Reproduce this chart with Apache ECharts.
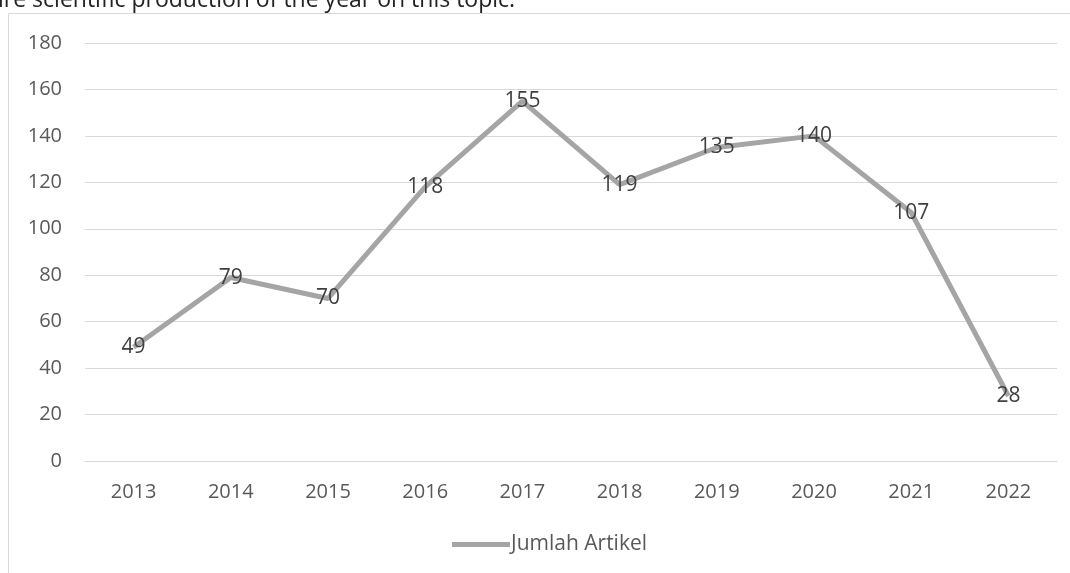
<!DOCTYPE html>
<html><head><meta charset="utf-8">
<script src="https://cdn.jsdelivr.net/npm/echarts@6/dist/echarts.min.js"></script>
<style>html,body{margin:0;padding:0;background:#fff}#c{width:1070px;height:573px}</style>
</head><body><div id="c"></div>
<script>
const categories = ['2013','2014','2015','2016','2017','2018','2019','2020','2021','2022'];
const jumlahArtikel = [49,79,70,118,155,119,135,140,107,28];
const seriesName = 'Jumlah Artikel';
const captionText = 'ire scientific production of the year on this topic.';
const FONT = '"Open Sans", "Noto Sans", sans-serif';
const chart = echarts.init(document.getElementById('c'));
chart.setOption({
  animation:false,
  backgroundColor:'#fff',
  graphic:[
    {type:'text', left:-2, top:-11, style:{text:captionText, font:'23px "Open Sans", sans-serif', fill:'#222'}},
    {type:'line', shape:{x1:8.5,y1:13.5,x2:1070,y2:13.5}, style:{stroke:'#d9d9d9', lineWidth:1}},
    {type:'line', shape:{x1:8.5,y1:13.5,x2:8.5,y2:573}, style:{stroke:'#d9d9d9', lineWidth:1}}
  ],
  grid:{left:85, right:13, top:43, bottom:112, containLabel:false},
  legend:{bottom:13, left:447, itemWidth:58, itemHeight:5, itemGap:0,
    itemStyle:{color:'#a5a5a5', opacity:1},
    textStyle:{color:'#595959', fontSize:21, fontFamily:FONT, padding:[0,0,0,-4]},
    icon:'rect', data:[seriesName]},
  xAxis:{type:'category', data:categories, boundaryGap:true,
    axisLine:{show:true, lineStyle:{color:'#d9d9d9'}}, axisTick:{show:false},
    axisLabel:{color:'#595959', fontSize:20, fontFamily:FONT, margin:21}},
  yAxis:{type:'value', min:0, max:180, interval:20,
    axisLine:{show:false}, axisTick:{show:false},
    splitLine:{lineStyle:{color:'#d9d9d9', width:1}},
    axisLabel:{color:'#595959', fontSize:20, fontFamily:FONT, margin:23}},
  series:[{name:seriesName, type:'line', data:jumlahArtikel, symbol:'circle', symbolSize:1, showSymbol:true,
    lineStyle:{color:'#a5a5a5', width:5}, itemStyle:{color:'#a5a5a5', opacity:0},
    label:{show:true, position:'inside', color:'#404040', fontSize:21, fontFamily:FONT, opacity:1}}]
});
</script></body></html>
